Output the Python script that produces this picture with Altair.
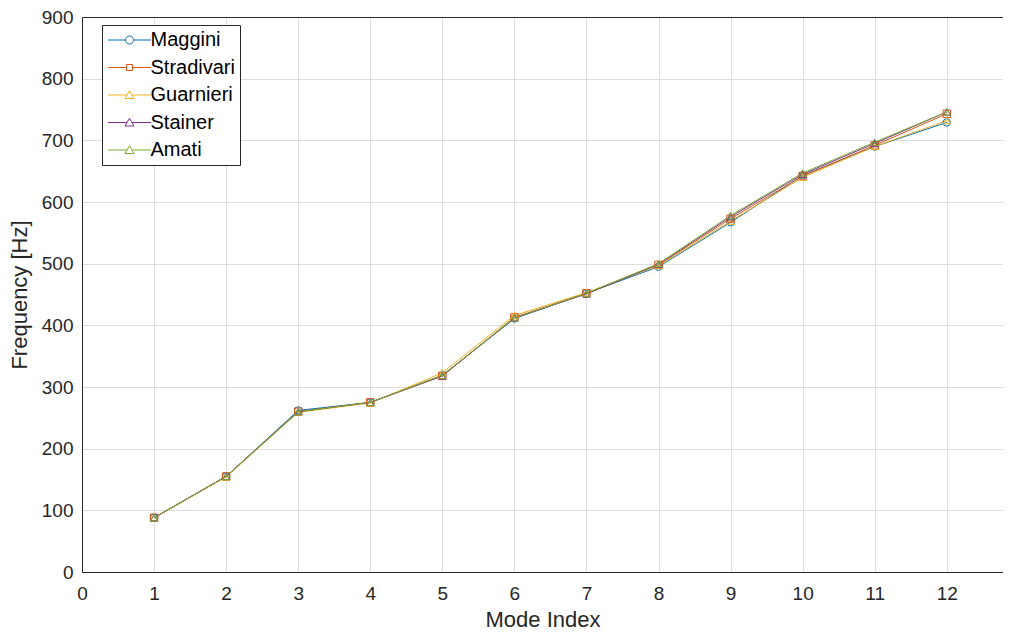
import altair as alt
import pandas as pd

# ---- data ----
modes = list(range(1, 13))
series_names = ["Maggini", "Stradivari", "Guarnieri", "Stainer", "Amati"]
maggini = [88, 155, 262, 275, 319, 411, 452, 495, 567, 643, 690, 729]
stradivari = [88, 155, 260, 275, 318, 413, 452, 498, 573, 642, 692, 743]
guarnieri = [88, 154, 259, 274, 323, 416, 453, 497, 569, 640, 690, 732]
stainer = [88, 155, 260, 275, 318, 412, 451, 499, 576, 645, 695, 746]
amati = [88, 155, 260, 275, 319, 412, 452, 500, 578, 647, 697, 746]
series_values = [maggini, stradivari, guarnieri, stainer, amati]
colors = ["#0072BD", "#D95319", "#EDB120", "#7E2F8E", "#77AC30"]
marker_shapes = ["circle", "square", "triangle-up", "triangle-up", "triangle-up"]
x_ticks = list(range(0, 13))
y_ticks = list(range(0, 901, 100))

rows = []
for name, vals, shp in zip(series_names, series_values, marker_shapes):
    for m, v in zip(modes, vals):
        rows.append({"Mode": m, "Frequency": v, "Series": name, "Marker": shp})
df = pd.DataFrame(rows)

FONT = "Liberation Sans"
DARK = "#262626"

# legend symbols: short line with marker (path units = 5px with symbolSize 100)
circ = "M-4.3,0L-0.8,0M0.8,0L4.3,0M-0.8,0A0.8,0.8,0,1,0,0.8,0A0.8,0.8,0,1,0,-0.8,0Z"
sq = "M-4.3,0L-0.6,0M0.6,0L4.3,0M-0.6,-0.6L0.6,-0.6L0.6,0.6L-0.6,0.6Z"
tri = "M-4.3,0L-0.5,0M0.5,0L4.3,0M0,-0.85L0.9,0.7L-0.9,0.7Z"
sym_expr = (
    f"datum.value === 'Maggini' ? '{circ}' : "
    f"(datum.value === 'Stradivari' ? '{sq}' : '{tri}')"
)

xscale = alt.Scale(domain=[0, 12.78], nice=False, zero=False)
yscale = alt.Scale(domain=[0, 900], nice=False)
cscale = alt.Scale(domain=series_names, range=colors)

base = alt.Chart(df)

lines = base.mark_line(strokeWidth=1).encode(
    x=alt.X(
        "Mode:Q",
        scale=xscale,
        axis=alt.Axis(
            values=x_ticks, title="Mode Index", labelPadding=12, titlePadding=6,
            grid=True, labelFlush=False, labelOverlap=False, orient="bottom",
        ),
    ),
    y=alt.Y(
        "Frequency:Q",
        scale=yscale,
        axis=alt.Axis(
            values=y_ticks, title="Frequency [Hz]", labelPadding=9, titlePadding=10,
            grid=True, labelFlush=False, labelOverlap=False,
        ),
    ),
    color=alt.Color(
        "Series:N",
        scale=cscale,
        sort=series_names,
        legend=alt.Legend(
            title=None,
            orient="none",
            legendX=20,
            legendY=8,
            symbolType={"expr": sym_expr},
            symbolSize=100,
            symbolStrokeWidth=1,
            symbolOffset=12.5,
            labelFont=FONT,
            labelFontSize=20,
            labelColor="#000000",
            labelOffset=11,
            strokeColor=DARK,
            fillColor="white",
            padding=5,
            rowPadding=7.5,
            labelLimit=0,
        ),
    ),
)

def marker_layer(shape, top_axis=False):
    ax = alt.Axis(orient="top", labels=False, ticks=False, grid=False,
                  domain=True, title=None) if top_axis else None
    return (
        base.transform_filter(alt.datum.Marker == shape)
        .mark_point(filled=False, strokeWidth=1, size=55, opacity=1, shape=shape)
        .encode(
            x=alt.X("Mode:Q", scale=xscale, axis=ax),
            y=alt.Y("Frequency:Q", scale=yscale),
            color=alt.Color("Series:N", scale=cscale, sort=series_names, legend=None),
        )
    )

pts_circle = marker_layer("circle", top_axis=True)
pts_square = marker_layer("square")
pts_tri = marker_layer("triangle-up")

chart = (
    alt.layer(lines, pts_circle, pts_square, pts_tri)
    .resolve_axis(x="independent")
    .properties(
        width=921,
        height=555,
        autosize=alt.AutoSizeParams(type="none"),
        padding={"left": 74, "top": 9, "right": 0, "bottom": 59},
        background="white",
    )
    .configure_view(stroke=None)
    .configure_axis(
        labelFont=FONT,
        labelFontSize=19,
        labelColor=DARK,
        titleFont=FONT,
        titleFontSize=22,
        titleFontWeight="normal",
        titleColor=DARK,
        domainColor=DARK,
        domainWidth=1,
        gridColor="#dedede",
        gridWidth=1,
        ticks=False,
    )
)

chart.save("out.html", embed_options={"renderer": "svg", "actions": False})
